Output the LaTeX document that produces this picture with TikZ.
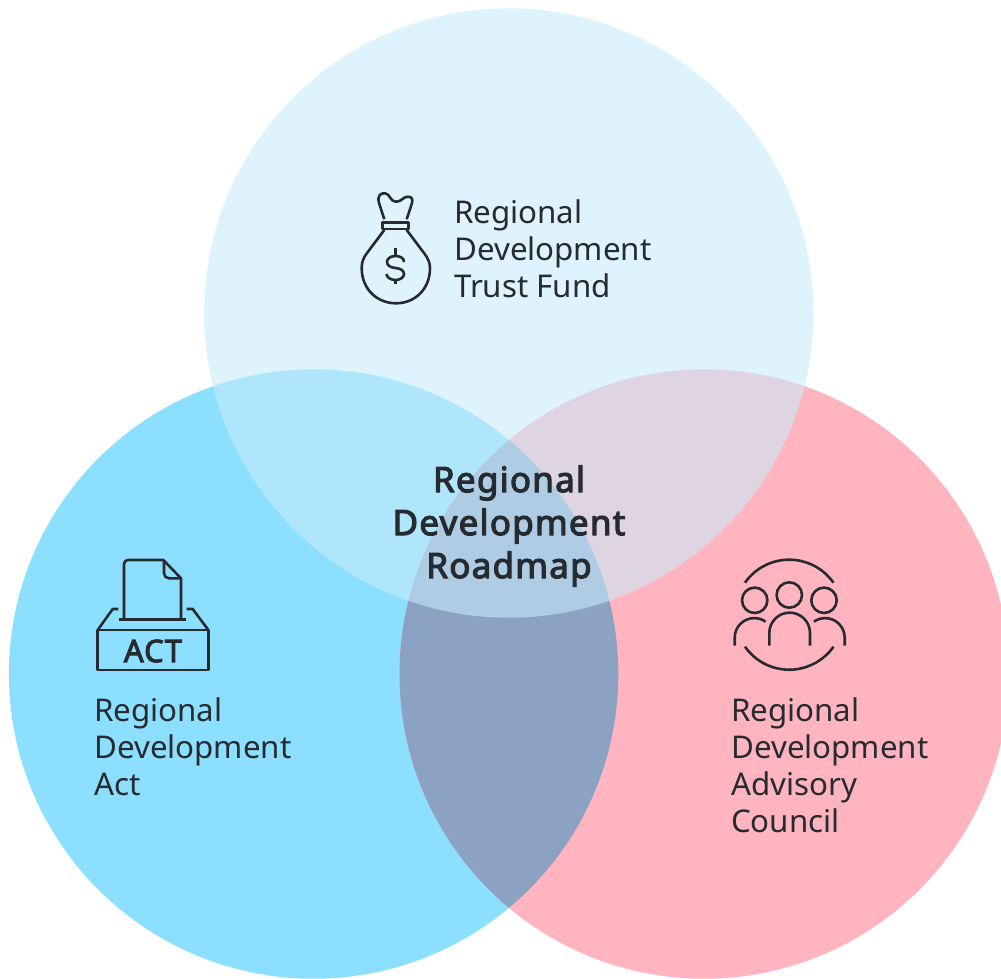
\documentclass[tikz,border=0pt]{standalone}
\usepackage{fontspec}
\setmainfont{Noto Sans}[BoldFont={Noto Sans},BoldFeatures={FakeBold=3.2,LetterSpace=3.5}]
\definecolor{inkdark}{HTML}{262B30}
\definecolor{actblue}{HTML}{8CDFFF}
\definecolor{councilpink}{HTML}{FFB4C0}
\definecolor{overlapblue}{HTML}{8BA2C3}
\definecolor{fundblue}{HTML}{C8EBFB}
\begin{document}
\begin{tikzpicture}[
        x=1pt, y=-1pt,
        icon/.style={draw=inkdark, line width=2.6pt, line join=round, fill=none},
        caption/.style={anchor=north west, align=left, inner sep=0pt, text=inkdark, font=\fontsize{31.3}{37}\selectfont},
        title/.style={align=center, inner sep=0pt, text=inkdark, font=\fontsize{35}{43}\selectfont\bfseries},
    ]
	\useasboundingbox (0,0) rectangle (1001,979);
	\clip (0,0) rectangle (1001,979);
	% circles
	\fill[actblue] (313.6,674) circle (304.7);
	\fill[councilpink] (704.2,674) circle (304.7);
	\begin{scope}
		\clip (313.6,674) circle (304.7);
		\fill[overlapblue] (704.2,674) circle (304.7);
	\end{scope}
	\fill[fundblue, fill opacity=0.59] (508.8,313) circle (304.7);
	% money bag
	\draw[icon] (384.3,219.3) -- (379,203) .. controls (377,195) and (381,193) .. (385,193.3) .. controls (390,193.5) and (390,201.7) .. (396,201.7) .. controls (402,201.7) and (403,196.5) .. (408,196.7) .. controls (412,197) and (413,199) .. (412,203) -- (406.7,219.3);
	\draw[icon] (382.7,222.3) rectangle (408.3,229);
	\draw[icon] (384.3,230) -- (367,253) .. controls (363,258) and (361.7,263) .. (361.7,268) .. controls (361.7,290) and (378,303.3) .. (396,303.3) .. controls (414,303.3) and (430,290) .. (430,268) .. controls (430,263) and (428,258) .. (424,253) -- (406.7,230);
	\draw[icon] (404,262) .. controls (404,258) and (400,256) .. (395.5,256) .. controls (390,256) and (387,259) .. (387,262) .. controls (387,266) and (391,267.5) .. (395.5,268) .. controls (400,268.5) and (404,270) .. (404,274) .. controls (404,277.5) and (400,280) .. (395.5,280) .. controls (391,280) and (386.5,277.5) .. (386.5,274);
	\draw[icon] (395.5,247.7) -- (395.5,256);
	\draw[icon] (395.5,280) -- (395.5,284.3);
	% act box
	\draw[icon] (124,619.3) -- (124,564) arc[start angle=180, end angle=270, radius=4] -- (163.3,560) -- (181,578.3) -- (181,619.3);
	\draw[icon] (164,560.5) -- (164,573.3) arc[start angle=180, end angle=90, radius=5] -- (181,578.3);
	\draw[icon] (119.3,619.3) -- (186,619.3);
	\draw[icon] (118.3,609) -- (112.7,609) -- (97.7,630);
	\draw[icon] (186.7,609) -- (192.7,609) -- (208.3,630);
	\draw[icon] (97.7,630) rectangle (208.3,670);
	\node[inner sep=0pt, text=inkdark, font=\fontsize{31}{31}\selectfont\bfseries] (act_label) at (153,651) {ACT};
	% people
	\draw[icon] (745,582.7) arc[start angle=-145, end angle=-35, radius=54];
	\draw[icon] (745,646.7) arc[start angle=145, end angle=35, radius=54];
	\draw[icon] (789.3,595) circle (12.7);
	\draw[icon] (754.7,600.3) circle (12.7);
	\draw[icon] (824,600.3) circle (12.7);
	\draw[icon] (769.3,645.7) -- (769.3,633) arc[start angle=180, end angle=360, radius=20.35] -- (810,645.7);
	\draw[icon] (734.7,645.7) -- (734.7,637.7) arc[start angle=180, end angle=305, radius=19.6];
	\draw[icon] (844.7,645.7) -- (844.7,637.7) arc[start angle=0, end angle=-125, radius=19.6];
	% labels
	\node[caption] (fund_label) at (454,200) {Regional\\Development\\Trust Fund};
	\node[caption] (act_text) at (94,698) {Regional\\Development\\Act};
	\node[caption] (council_label) at (731,698) {Regional\\Development\\Advisory\\Council};
	\node[title] (roadmap_label) at (509,526) {Regional\\Development\\Roadmap};
\end{tikzpicture}
\end{document}
